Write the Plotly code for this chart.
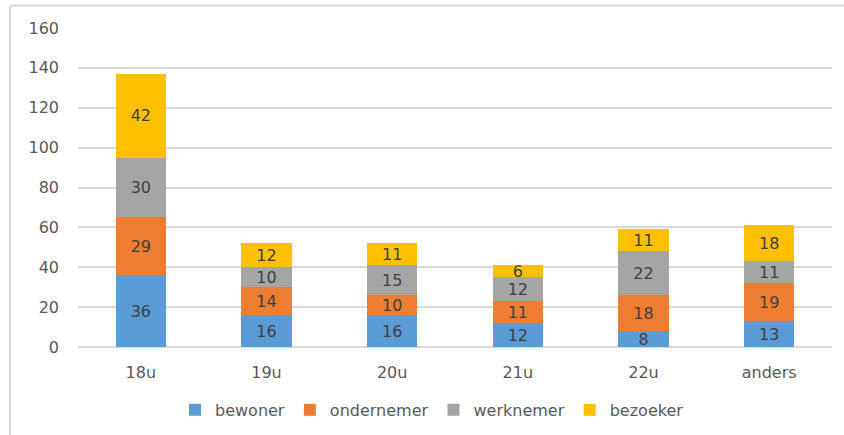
import plotly.graph_objects as go

categories = ["18u", "19u", "20u", "21u", "22u", "anders"]
bewoner = [36, 16, 16, 12, 8, 13]
ondernemer = [29, 14, 10, 11, 18, 19]
werknemer = [30, 10, 15, 12, 22, 11]
bezoeker = [42, 12, 11, 6, 11, 18]

series = [
    ("bewoner", bewoner, "#5B9BD5"),
    ("ondernemer", ondernemer, "#ED7D31"),
    ("werknemer", werknemer, "#A5A5A5"),
    ("bezoeker", bezoeker, "#FFC000"),
]

FONT = "DejaVu Sans"
FS = 16
fig = go.Figure()
for name, vals, color in series:
    fig.add_trace(go.Bar(
        x=categories, y=vals, name=name,
        marker=dict(color=color, line=dict(width=0)),
        text=vals, textposition="inside", insidetextanchor="middle",
        textangle=0, constraintext="none",
        textfont=dict(family=FONT, size=FS, color="#404040"),
    ))

L, R, T, B = 78, 12, 27.5, 88
W, H = 844, 435
pw, ph = W - L - R, H - T - B

fig.update_layout(
    barmode="stack",
    bargap=0.6,
    width=W, height=H,
    margin=dict(l=L, r=R, t=T, b=B, pad=0, autoexpand=False),
    paper_bgcolor="white", plot_bgcolor="white",
    font=dict(family=FONT, size=FS, color="#595959"),
    showlegend=True,
    legend=dict(orientation="h", x=(432 - L) / pw, xanchor="center",
                y=(H - B - 410) / ph, yanchor="middle",
                font=dict(family=FONT, size=FS, color="#595959"),
                itemwidth=30, traceorder="normal", tracegroupgap=0),
    xaxis=dict(showgrid=False, showline=False, ticks="", ticklabelstandoff=14,
               automargin=False,
               tickfont=dict(family=FONT, size=FS, color="#595959")),
    yaxis=dict(range=[0, 160], dtick=20, showgrid=True, gridcolor="#D9D9D9",
               gridwidth=1.5, zeroline=True, zerolinecolor="#D9D9D9", zerolinewidth=1.5,
               showline=False, ticks="", ticklabelstandoff=18, automargin=False,
               tickfont=dict(family=FONT, size=FS, color="#595959")),
    shapes=[
        dict(type="line", xref="paper", yref="paper",
             x0=(10 - L) / pw, x1=(W + 2 - L) / pw,
             y0=(H - B - 5) / ph, y1=(H - B - 5) / ph,
             line=dict(color="#D9D9D9", width=2)),
        dict(type="line", xref="paper", yref="paper",
             x0=(10 - L) / pw, x1=(10 - L) / pw,
             y0=(H - B - 5) / ph, y1=(H - B - H - 2) / ph,
             line=dict(color="#D9D9D9", width=2)),
    ],
)

fig.write_html("out.html", config={"displayModeBar": False},
               post_script="document.body.style.margin='0';")
